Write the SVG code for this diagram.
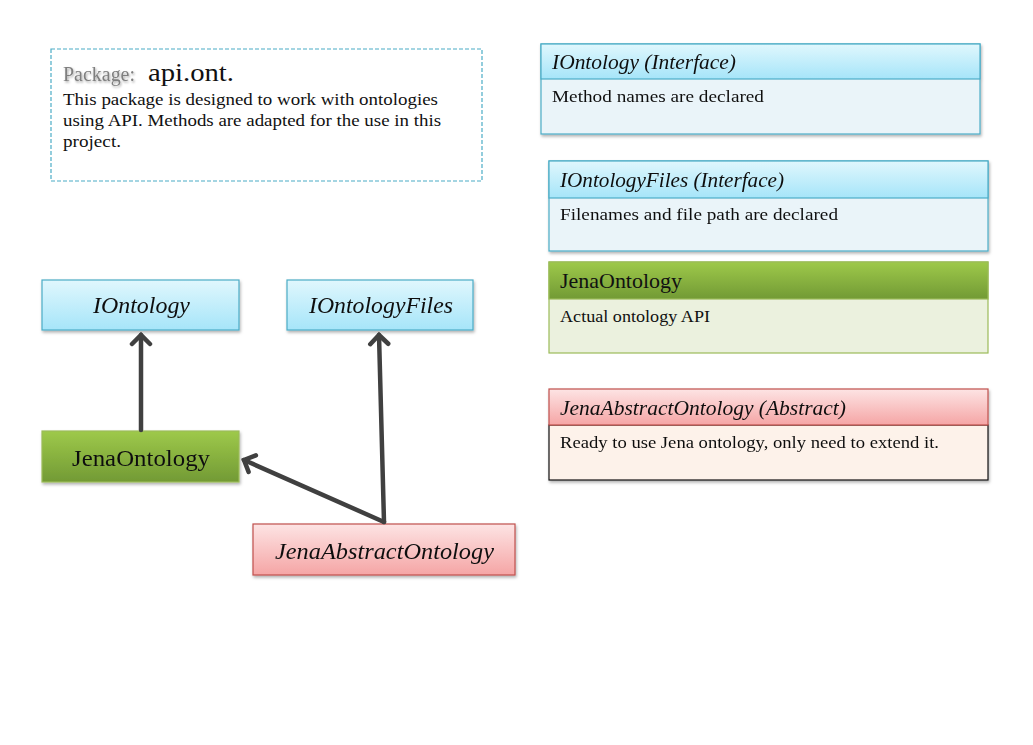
<svg xmlns="http://www.w3.org/2000/svg" width="1033" height="745" viewBox="0 0 1033 745">
<style>
text{font-family:"Liberation Serif","DejaVu Serif",serif;fill:#111}
.it{font-style:italic}
.cy{stroke:#4bacc6;stroke-width:1.2}
.gr{stroke:#9bbb59;stroke-width:1.2}
.rd{stroke:#c0504d;stroke-width:1.2}
.conn{fill:none;stroke:#404040;stroke-width:4.5;stroke-linecap:round}
</style>
<defs>
<linearGradient id="gc" x1="0" y1="0" x2="0" y2="1"><stop offset="0" stop-color="#e0f7fd"/><stop offset="1" stop-color="#a6e5f9"/></linearGradient>
<linearGradient id="gg" x1="0" y1="0" x2="0" y2="1"><stop offset="0" stop-color="#9ec94a"/><stop offset="1" stop-color="#729a35"/></linearGradient>
<linearGradient id="gp" x1="0" y1="0" x2="0" y2="1"><stop offset="0" stop-color="#fde4e4"/><stop offset="1" stop-color="#f5a5a5"/></linearGradient>
<filter id="sh" x="-5%" y="-10%" width="112%" height="130%"><feDropShadow dx="1" dy="2" stdDeviation="1.5" flood-color="#000" flood-opacity="0.3"/></filter>
<filter id="tsh" x="-5%" y="-20%" width="115%" height="150%"><feDropShadow dx="1" dy="1.5" stdDeviation="1" flood-color="#000" flood-opacity="0.35"/></filter>
<marker id="ah" markerWidth="24" markerHeight="24" viewBox="-12 -12 24 24" refX="0" refY="0" orient="auto" markerUnits="userSpaceOnUse"><path d="M-9,-9 L0,0 L-9,9" fill="none" stroke="#404040" stroke-width="4.5" stroke-linecap="round" stroke-linejoin="miter"/></marker>
</defs>

<g id="package">
<rect x="51" y="49" width="431" height="132" fill="#fff" stroke="#4bacc6" stroke-width="1.2" stroke-dasharray="4,2"/>
<text x="63" y="81" font-size="20" style="fill:#7f7f7f" filter="url(#tsh)" textLength="72" lengthAdjust="spacingAndGlyphs">Package:</text>
<text x="148" y="81" font-size="25" textLength="86" lengthAdjust="spacingAndGlyphs">api.ont.</text>
<text x="63" y="105" font-size="17.5" textLength="375" lengthAdjust="spacingAndGlyphs">This package is designed to work with ontologies</text>
<text x="63" y="126" font-size="17.5" textLength="378" lengthAdjust="spacingAndGlyphs">using API. Methods are adapted for the use in this</text>
<text x="63" y="147" font-size="17.5" textLength="58" lengthAdjust="spacingAndGlyphs">project.</text>
</g>

<g id="legend-iontology" filter="url(#sh)">
<rect x="541" y="44" width="439" height="90" fill="#eaf4f9" class="cy"/>
<rect x="541" y="44" width="439" height="35" fill="url(#gc)" class="cy"/>
<text x="552" y="69" font-size="20.5" class="it" textLength="184" lengthAdjust="spacingAndGlyphs">IOntology (Interface)</text>
<text x="552" y="102" font-size="17.5" textLength="212" lengthAdjust="spacingAndGlyphs">Method names are declared</text>
</g>

<g id="legend-iontologyfiles" filter="url(#sh)">
<rect x="549" y="161" width="439" height="90" fill="#eaf4f9" class="cy"/>
<rect x="549" y="161" width="439" height="37" fill="url(#gc)" class="cy"/>
<text x="560" y="187" font-size="20.5" class="it" textLength="224" lengthAdjust="spacingAndGlyphs">IOntologyFiles (Interface)</text>
<text x="560" y="220" font-size="17.5" textLength="278" lengthAdjust="spacingAndGlyphs">Filenames and file path are declared</text>
</g>

<g id="legend-jenaontology">
<rect x="549" y="262" width="439" height="91" fill="#ebf1de" class="gr"/>
<rect x="549" y="262" width="439" height="37" fill="url(#gg)" class="gr"/>
<text x="560" y="288" font-size="21" textLength="122" lengthAdjust="spacingAndGlyphs">JenaOntology</text>
<text x="560" y="322" font-size="17.5" textLength="150" lengthAdjust="spacingAndGlyphs">Actual ontology API</text>
</g>

<g id="legend-jenaabstract" filter="url(#sh)">
<rect x="549" y="425" width="439" height="55" fill="#fdf2ea" stroke="#111" stroke-width="1.2"/>
<rect x="549" y="389" width="439" height="36" fill="url(#gp)" class="rd"/>
<text x="560" y="415" font-size="20.5" class="it" textLength="286" lengthAdjust="spacingAndGlyphs">JenaAbstractOntology (Abstract)</text>
<text x="560" y="448" font-size="17.5" textLength="379" lengthAdjust="spacingAndGlyphs">Ready to use Jena ontology, only need to extend it.</text>
</g>

<g id="node-iontology" filter="url(#sh)">
<rect x="42" y="280" width="197" height="50" fill="url(#gc)" class="cy"/>
<text x="93" y="313" font-size="23.5" class="it" textLength="97" lengthAdjust="spacingAndGlyphs">IOntology</text>
</g>
<g id="node-iontologyfiles" filter="url(#sh)">
<rect x="287" y="280" width="186" height="50" fill="url(#gc)" class="cy"/>
<text x="309" y="313" font-size="23.5" class="it" textLength="144" lengthAdjust="spacingAndGlyphs">IOntologyFiles</text>
</g>
<g id="node-jenaontology" filter="url(#sh)">
<rect x="42" y="431" width="197" height="51" fill="url(#gg)" class="gr"/>
<text x="72" y="466" font-size="23.5" textLength="138" lengthAdjust="spacingAndGlyphs">JenaOntology</text>
</g>
<g id="node-jenaabstract" filter="url(#sh)">
<rect x="253" y="524" width="262" height="51" fill="url(#gp)" class="rd"/>
<text x="275" y="559" font-size="23.5" class="it" textLength="219" lengthAdjust="spacingAndGlyphs">JenaAbstractOntology</text>
</g>

<g id="connectors">
<path class="conn" d="M141,430 L141,335" marker-end="url(#ah)"/>
<path class="conn" d="M384,522 L379,335" marker-end="url(#ah)"/>
<path class="conn" d="M384,522 L244,460" marker-end="url(#ah)"/>
</g>
</svg>
